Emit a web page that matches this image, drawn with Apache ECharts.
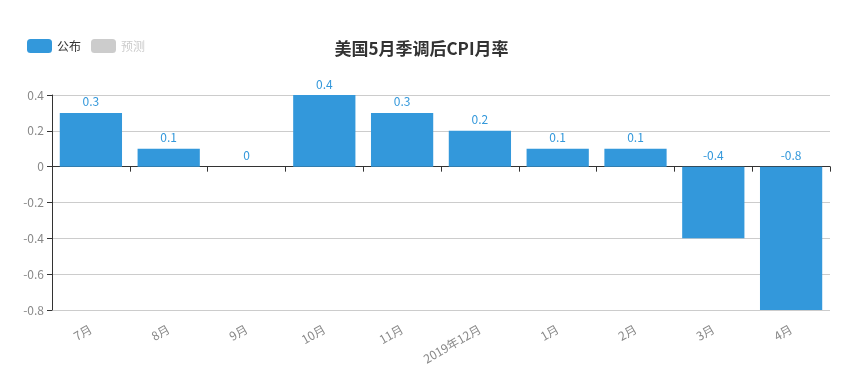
<!DOCTYPE html>
<html><head><meta charset="utf-8">
<script src="https://cdn.jsdelivr.net/npm/echarts@6/dist/echarts.min.js"></script>
<style>html,body{margin:0;padding:0;background:#fff}#c{width:843px;height:392px}</style>
</head><body><div id="c"></div>
<script>
const categories = ['7月','8月','9月','10月','11月','2019年12月','1月','2月','3月','4月'];
const publishedValues = [0.3,0.1,0,0.4,0.3,0.2,0.1,0.1,-0.4,-0.8];
const forecastValues = [];
const yTicks = {min:-0.8, max:0.4, interval:0.2};
const FONT = "'Microsoft YaHei','Noto Sans CJK SC',sans-serif";
const chart = echarts.init(document.getElementById('c'));
chart.setOption({
  animation:false,
  textStyle:{fontFamily:FONT},
  title:{text:'美国5月季调后CPI月率', left:'center', top:35, textStyle:{fontSize:17, fontWeight:'bold', color:'#333', fontFamily:FONT}},
  legend:{left:22, top:34, itemWidth:25, itemHeight:14, itemGap:10, data:['公布','预测'], selected:{'预测':false}, textStyle:{fontSize:12,color:'#333'}, inactiveColor:'#ccc'},
  grid:{left:52, right:13, top:95, bottom:82},
  xAxis:[
    {type:'category', data:categories, position:'bottom', axisLine:{show:false, onZero:false}, axisTick:{show:false},
     axisLabel:{rotate:30, color:'#888', fontSize:12, margin:18, interval:0}},
    {type:'category', data:categories, position:'bottom', axisLine:{show:true, onZero:true, lineStyle:{color:'#333'}}, axisTick:{show:true, length:5, interval:0}, axisLabel:{show:false, interval:0}}
  ],
  yAxis:{type:'value', min:yTicks.min, max:yTicks.max, interval:yTicks.interval,
    axisLine:{show:true, lineStyle:{color:'#333'}}, axisTick:{show:true, length:5},
    axisLabel:{color:'#888', fontSize:12},
    splitLine:{lineStyle:{color:'#ccc'}}},
  series:[
    {name:'公布', type:'bar', data:publishedValues, barCategoryGap:'20%', itemStyle:{color:'#3398DB'},
     label:{show:true, position:'top', color:'#3398DB', fontSize:12}},
    {name:'预测', type:'bar', data:forecastValues, itemStyle:{color:'#ccc'}}
  ]
});
</script></body></html>
